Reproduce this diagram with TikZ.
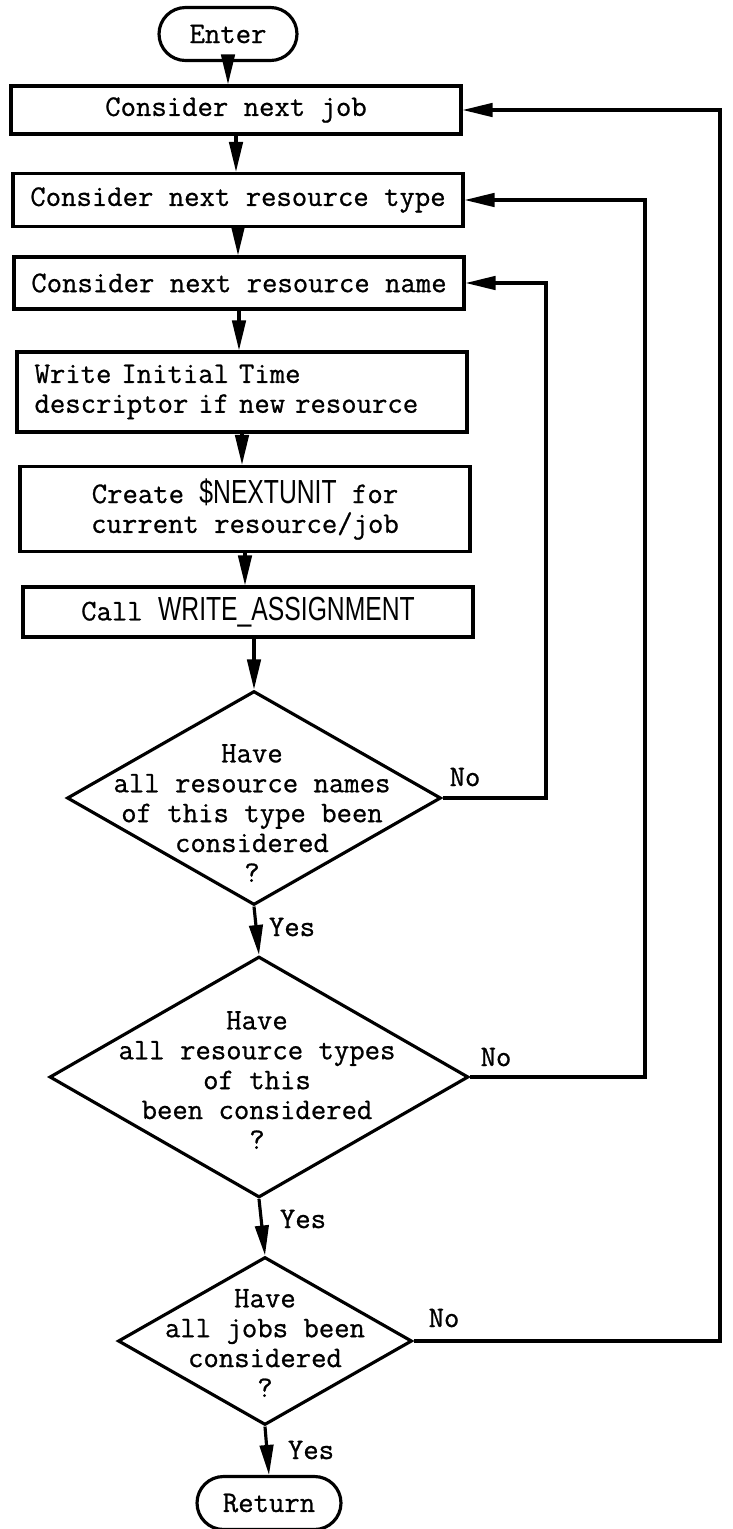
\documentclass[tikz,border=0pt]{standalone}
\usepackage{fontspec}
\setmonofont{Latin Modern Mono}[FakeBold=0.8]
\newfontfamily\narrowsf[FakeStretch=0.74]{Liberation Sans}
\usetikzlibrary{arrows.meta,shapes.geometric,shapes.misc}

\tikzset{
  txt/.style={font=\ttfamily\fontsize{17}{17}\selectfont},
  procbox/.style={txt, draw, rectangle, minimum width=9cm, minimum height=1cm,
    inner sep=0pt, align=center},
  termbox/.style={txt, draw, rounded rectangle, minimum height=1.06cm, inner sep=0pt},
  decision/.style={draw, diamond, inner sep=0pt},
  dtext/.style={txt, align=center},
  lbl/.style={txt},
  arr/.style={-{Triangle[length=0.6cm,width=0.27cm]}},
}
\newcommand{\capsname}[1]{{\narrowsf\fontsize{19}{17}\selectfont #1}}

\begin{document}
\begin{tikzpicture}[x=0.02cm, y=-0.02cm, line width=1.8pt]
    \useasboundingbox (0,0) rectangle (733,1529);

    % Enter and the process boxes
    \node[termbox, minimum width=2.76cm] (enter) at (228,34) {Enter};
    \node[procbox, minimum height=0.96cm] (job) at (236,110) {Consider next job};
    \node[procbox, minimum height=1.06cm] (rtype) at (238,200)
        {Consider next resource type};
    \node[procbox, minimum height=1.04cm] (rname) at (239,283)
        {Consider next resource name};
    \node[procbox, minimum height=1.6cm, align=left, text width=8.3cm] (initdesc)
        at (242,392) {Write Initial Time\\descriptor if new resource};
    \node[procbox, minimum height=1.7cm] (nextunit) at (245,509)
        {Create \capsname{\$NEXTUNIT} for\\current resource/job};
    \node[procbox] (callwa) at (248,612) {Call \capsname{WRITE\_ASSIGNMENT}};

    % Decisions
    \node[decision, minimum width=7.48cm, minimum height=4.28cm] (names) at (254,798) {};
    \node[dtext] (namestxt) at (252,813)
        {Have\\all resource names\\of this type been\\considered\\?};
    \node[decision, minimum width=8.38cm, minimum height=4.82cm] (types) at (259,1077) {};
    \node[dtext] (typestxt) at (257,1080)
        {Have\\all resource types\\of this\\been considered\\?};
    \node[decision, minimum width=5.88cm, minimum height=3.36cm] (jobs) at (265,1341) {};
    \node[dtext] (jobstxt) at (265,1343) {Have\\all jobs been\\considered\\?};

    % Return
    \node[termbox, minimum width=2.88cm] (ret) at (269,1503) {Return};

    % Main flow
    \draw[arr] (enter.south) -- (enter.south |- job.north);
    \foreach \a/\b in {job/rtype, rtype/rname, rname/initdesc,
                       initdesc/nextunit, nextunit/callwa}
        \draw[arr] (\a.south) -- (\a.south |- \b.north);
    \draw[arr] (callwa.south -| names.north) -- (names.north);
    \draw[arr] (names.south) -- (types.north);
    \draw[arr] (types.south) -- (jobs.north);
    \draw[arr] (jobs.south) -- (ret.north);

    % Loops back (No branches)
    \coordinate (nameloop) at (546,0);
    \coordinate (typeloop) at (645,0);
    \coordinate (jobloop) at (720,0);
    \draw[arr] (names.east) -- (names.east -| nameloop)
        -- (nameloop |- rname.east) -- (rname.east);
    \draw[arr] (types.east) -- (types.east -| typeloop)
        -- (typeloop |- rtype.east) -- (rtype.east);
    \draw[arr] (jobs.east) -- (jobs.east -| jobloop)
        -- (jobloop |- job.east) -- (job.east);

    % Branch labels
    \foreach \nm/\x/\y/\t in {no1/465/777/No, yes1/292/927/Yes,
                              no2/496/1057/No, yes2/303/1219/Yes,
                              no3/444/1318/No, yes3/311/1450/Yes}
        \node[lbl] (\nm) at (\x,\y) {\t};

\end{tikzpicture}
\end{document}
